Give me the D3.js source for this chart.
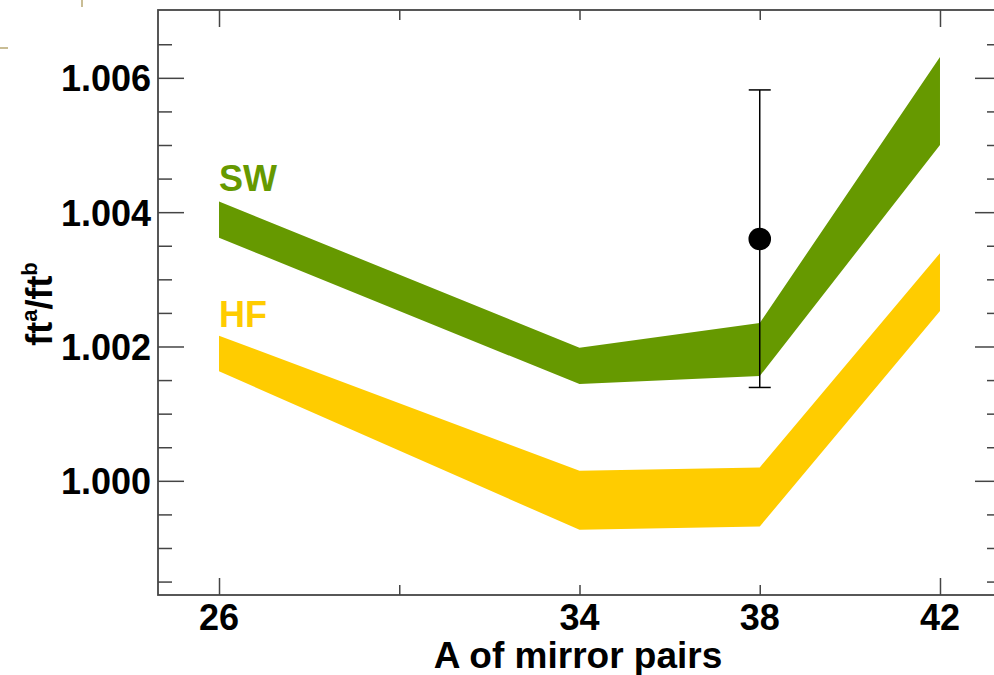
<!DOCTYPE html>
<html><head><meta charset="utf-8">
<script src="https://cdn.jsdelivr.net/npm/d3@7"></script>
<style>
html,body{margin:0;padding:0;background:#fff;}
svg{display:block;font-family:"Liberation Sans",Arial,sans-serif;}
</style></head>
<body><svg id="c" width="994" height="675"></svg>
<script>
// ---- data ----
const massNumbers = [26, 34, 38, 42];
const swUpper = [1.00416, 1.00198, 1.00235, 1.00631];
const swLower = [1.00362, 1.00144, 1.00156, 1.00500];
const hfUpper = [1.00216, 1.00015, 1.00020, 1.00339];
const hfLower = [1.00163, 0.99927, 0.99932, 1.00253];
const expPoint = {A: 38, value: 1.00360, hi: 1.00582, lo: 1.00139};
const xMajorTicks = [26, 42];
const xMinorTicks = [30, 34, 38];
const xTickLabels = [26, 34, 38, 42];
const yMajorTicks = [1.000, 1.002, 1.004, 1.006];
const yMinorTicks = [0.9985, 0.9990, 0.9995, 1.0005, 1.0010, 1.0015, 1.0025, 1.0030, 1.0035, 1.0045, 1.0050, 1.0055, 1.0065];
const seriesLabels = ["SW", "HF"];

// ---- layout ----
const L = 158, R = 1001, T = 10, B = 595;
const x = d3.scaleLinear().domain([24.646, 43.354]).range([L, R]);
const y = d3.scaleLinear().domain([0.99830, 1.00701]).range([B, T]);
const svg = d3.select("#c");
const axisColor = "#454545";

// slide decoration marks
svg.append("line").attr("x1",82).attr("x2",82).attr("y1",0).attr("y2",7).attr("stroke","#c9bd95").attr("stroke-width",2);
svg.append("line").attr("x1",0).attr("x2",8).attr("y1",48).attr("y2",48).attr("stroke","#c9bd95").attr("stroke-width",2);

// bands
function band(upper, lower) {
  const pts = massNumbers.map((a,i)=>({a, u:upper[i], l:lower[i]}));
  return d3.area().x(d=>x(d.a)).y0(d=>y(d.l)).y1(d=>y(d.u))(pts);
}
svg.append("path").attr("d", band(swUpper, swLower)).attr("fill", "#669900");
svg.append("path").attr("d", band(hfUpper, hfLower)).attr("fill", "#ffcc00");

// series labels
svg.append("text").attr("x", x(26)).attr("y", 191).attr("font-size", 36).attr("font-weight","bold").attr("fill","#669900").text(seriesLabels[0]);
svg.append("text").attr("x", x(26)).attr("y", 327).attr("font-size", 36).attr("font-weight","bold").attr("fill","#ffcc00").text(seriesLabels[1]);

// error bar + point
const ex = x(expPoint.A);
const eb = svg.append("g").attr("stroke","#000").attr("stroke-width",1.5);
eb.append("line").attr("x1",ex).attr("x2",ex).attr("y1",y(expPoint.hi)).attr("y2",y(expPoint.lo));
eb.append("line").attr("x1",ex-11).attr("x2",ex+11).attr("y1",y(expPoint.hi)).attr("y2",y(expPoint.hi));
eb.append("line").attr("x1",ex-11).attr("x2",ex+11).attr("y1",y(expPoint.lo)).attr("y2",y(expPoint.lo));
svg.append("circle").attr("cx",ex).attr("cy",y(expPoint.value)).attr("r",11.3).attr("fill","#000");

// axes
function styleAxis(g){
  g.select(".domain").remove();
  g.selectAll(".tick line").attr("stroke", axisColor).attr("stroke-width", 1.5);
  g.selectAll(".tick text").attr("fill","#000").attr("font-size",36).attr("font-weight","bold").attr("font-family","'Liberation Sans',Arial,sans-serif");
}
svg.append("g").attr("transform",`translate(${L},0)`).call(d3.axisLeft(y).tickValues(yMajorTicks).tickSize(-26).tickPadding(7).tickFormat(d3.format(".3f"))).call(styleAxis);
svg.append("g").attr("transform",`translate(${L},0)`).call(d3.axisLeft(y).tickValues(yMinorTicks).tickSize(-14).tickFormat("")).call(styleAxis);
svg.append("g").attr("transform",`translate(${R},0)`).call(d3.axisRight(y).tickValues(yMajorTicks).tickSize(-26).tickFormat("")).call(styleAxis);
svg.append("g").attr("transform",`translate(${R},0)`).call(d3.axisRight(y).tickValues(yMinorTicks).tickSize(-14).tickFormat("")).call(styleAxis);
svg.append("g").attr("transform",`translate(0,${B})`).call(d3.axisBottom(x).tickValues(xMajorTicks).tickSize(-17).tickFormat("")).call(styleAxis);
svg.append("g").attr("transform",`translate(0,${B})`).call(d3.axisBottom(x).tickValues(xMinorTicks).tickSize(-10).tickFormat("")).call(styleAxis);
svg.append("g").attr("transform",`translate(0,${T})`).call(d3.axisTop(x).tickValues(xMajorTicks).tickSize(-17).tickFormat("")).call(styleAxis);
svg.append("g").attr("transform",`translate(0,${T})`).call(d3.axisTop(x).tickValues(xMinorTicks).tickSize(-10).tickFormat("")).call(styleAxis);
svg.selectAll("text").filter(function(){return this.parentNode.classList && this.parentNode.classList.contains("tick");}).attr("dy","0.36em");

// x tick labels
svg.append("g").selectAll("text").data(xTickLabels).join("text")
  .attr("x", d=>x(d)).attr("y", 630).attr("text-anchor","middle")
  .attr("font-size",36).attr("font-weight","bold").text(d=>d);

// frame
svg.append("rect").attr("x",L).attr("y",T).attr("width",R-L).attr("height",B-T)
  .attr("fill","none").attr("stroke",axisColor).attr("stroke-width",1.8);

// axis titles
svg.append("text").attr("x",578).attr("y",668).attr("text-anchor","middle")
  .attr("font-size",37).attr("font-weight","bold").text("A of mirror pairs");
const yl = svg.append("text").attr("transform","translate(52,304) rotate(-90)")
  .attr("text-anchor","middle").attr("font-size",36).attr("font-weight","bold");
yl.append("tspan").text("ft");
yl.append("tspan").attr("font-size",22).attr("dy",-15).text("a");
yl.append("tspan").attr("dy",15).text("/ft");
yl.append("tspan").attr("font-size",22).attr("dy",-15).text("b");
</script>
</body></html>
